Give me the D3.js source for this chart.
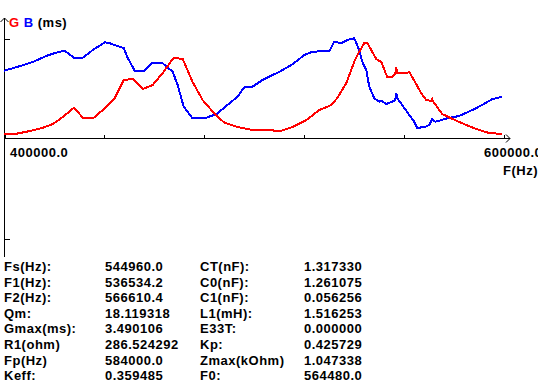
<!DOCTYPE html>
<html>
<head>
<meta charset="utf-8">
<script src="https://cdn.jsdelivr.net/npm/d3@7/dist/d3.min.js"></script>
<style>
  body { margin: 0; background: #fff; }
  text { font-family: "Liberation Sans", Arial, sans-serif; font-weight: bold; font-size: 13px; letter-spacing: 0.5px; }
</style>
</head>
<body>
<div id="chart"></div>
<script>
// Frequency sweep (Hz) and normalized conductance G / susceptance B
const freqG = [400000, 404400, 410400, 415600, 419600, 423600, 428000, 431600, 436000, 439600,
  444400, 446400, 448000, 451600, 455600, 459600, 463600, 468000, 471600, 475600,
  479600, 485200, 488400, 493200, 497600, 499600, 511200, 515600, 521200, 526400,
  531200, 533600, 537200, 540400, 542400, 544400, 545600, 549200, 551200, 553600,
  555600, 556800, 557200, 557600, 561600, 562400, 563600, 567200, 569200, 571200,
  571600, 572400, 573600, 575600, 582400, 589200, 594400, 599600];
const valG = [0.037, 0.04, 0.07, 0.103, 0.14, 0.21, 0.303, 0.203, 0.203, 0.28,
  0.40, 0.50, 0.58, 0.59, 0.49, 0.53, 0.65, 0.803, 0.79, 0.56,
  0.38, 0.22, 0.153, 0.113, 0.09, 0.08, 0.073, 0.11, 0.18, 0.28,
  0.33, 0.40, 0.55, 0.763, 0.863, 0.95, 0.95, 0.79, 0.76, 0.61,
  0.61, 0.64, 0.71, 0.65, 0.65, 0.66, 0.61, 0.45, 0.38, 0.37,
  0.39, 0.35, 0.31, 0.24, 0.16, 0.09, 0.05, 0.04];

const freqB = [400000, 405200, 411600, 417200, 420400, 424000, 425600, 428000, 431600, 435600,
  440400, 442400, 446400, 448000, 449600, 452400, 456400, 459600, 463600, 467600,
  469600, 472000, 475600, 480400, 485200, 490400, 493600, 496400, 499600, 503600,
  510400, 515600, 520400, 523600, 530400, 532400, 535200, 537600, 540400, 542400,
  543600, 545200, 546400, 548400, 550400, 551200, 553200, 555600, 556800, 557200,
  557600, 559600, 562400, 564400, 565600, 568400, 570400, 571600, 572800, 574400,
  577600, 582400, 589200, 595600, 599600];
const valB = [0.673, 0.71, 0.76, 0.823, 0.85, 0.873, 0.85, 0.803, 0.803, 0.88,
  0.957, 0.947, 0.913, 0.90, 0.80, 0.673, 0.673, 0.753, 0.747, 0.663,
  0.53, 0.313, 0.197, 0.197, 0.24, 0.347, 0.413, 0.51, 0.513, 0.58,
  0.663, 0.737, 0.83, 0.863, 0.87, 0.963, 0.947, 0.98, 0.997, 0.875,
  0.763, 0.68, 0.513, 0.397, 0.363, 0.373, 0.34, 0.363, 0.38, 0.453,
  0.397, 0.33, 0.23, 0.163, 0.103, 0.107, 0.13, 0.187, 0.163, 0.173,
  0.197, 0.22, 0.297, 0.387, 0.413];

const xTicks = [400000, 440000, 480000, 520000, 560000, 600000];
const yTicks = [-1, 1];

// Parameter table (label, value) pairs for the two columns
const leftLabels = ["Fs(Hz):", "F1(Hz):", "F2(Hz):", "Qm:", "Gmax(ms):", "R1(ohm)", "Fp(Hz)", "Keff:"];
const leftValues = ["544960.0", "536534.2", "566610.4", "18.119318", "3.490106", "286.524292", "584000.0", "0.359485"];
const rightLabels = ["CT(nF):", "C0(nF):", "C1(nF):", "L1(mH):", "E33T:", "Kp:", "Zmax(kOhm)", "F0:"];
const rightValues = ["1.317330", "1.261075", "0.056256", "1.516253", "0.000000", "0.425729", "1.047338", "564480.0"];

const W = 538, H = 386;
const svg = d3.select("#chart").append("svg")
  .attr("width", W)
  .attr("height", H)
  .style("display", "block");

const x = d3.scaleLinear().domain([400000, 600000]).range([4, 503]);
const y = d3.scaleLinear().domain([-1, 1]).range([238, 38]);
const y0 = Math.round(y(0)) + 0.5;
const xa = Math.round(x(400000)) + 0.5;

// axis lines
const axes = svg.append("g").attr("stroke", "#000").attr("fill", "none")
  .attr("shape-rendering", "crispEdges");
axes.append("line").attr("x1", xa).attr("x2", 510).attr("y1", y0).attr("y2", y0);
axes.append("line").attr("x1", xa).attr("x2", xa).attr("y1", 18).attr("y2", 257);

// arrows
svg.append("path")
  .attr("d", `M${xa - 4},${22} L${xa},${18} L${xa + 4},${22}`)
  .attr("stroke", "#000").attr("fill", "none");
svg.append("path")
  .attr("d", `M506,${y0 - 4} L510,${y0} L506,${y0 + 4}`)
  .attr("stroke", "#000").attr("fill", "none");

// x ticks (upward), no labels at tick positions
const xAxis = d3.axisBottom(x).tickValues(xTicks).tickSize(-4).tickFormat("");
svg.append("g")
  .attr("transform", `translate(0.5,${y0})`)
  .attr("shape-rendering", "crispEdges")
  .call(xAxis)
  .call(g => g.select(".domain").remove());

// y ticks (pointing right)
const yAxis = d3.axisLeft(y).tickValues(yTicks).tickSize(-5).tickFormat("");
svg.append("g")
  .attr("transform", `translate(${xa},0.5)`)
  .attr("shape-rendering", "crispEdges")
  .call(yAxis)
  .call(g => g.select(".domain").remove());

// axis labels
svg.append("text").attr("x", 10).attr("y", 157).text("400000.0");
svg.append("text").attr("x", 484).attr("y", 157).text("600000.0");
svg.append("text").attr("x", 503).attr("y", 175).text("F(Hz)");

const legend = svg.append("text").attr("x", 9).attr("y", 27);
legend.append("tspan").attr("fill", "#ff0000").text("G");
legend.append("tspan").attr("fill", "#0000ff").text(" B");
legend.append("tspan").attr("fill", "#000").text(" (ms)");

// curves
const line = d3.line().x(d => x(d[0])).y(d => y(d[1]));
const gData = freqG.map((f, i) => [f, valG[i]]);
const bData = freqB.map((f, i) => [f, valB[i]]);

svg.append("path").datum(bData)
  .attr("fill", "none").attr("stroke", "#0000ff").attr("stroke-width", 2)
  .attr("shape-rendering", "crispEdges")
  .attr("d", line);
svg.append("path").datum(gData)
  .attr("fill", "none").attr("stroke", "#ff0000").attr("stroke-width", 2)
  .attr("shape-rendering", "crispEdges")
  .attr("d", line);

// parameter table
const cols = [[leftLabels, 4], [leftValues, 105], [rightLabels, 200], [rightValues, 304]];
cols.forEach(([arr, cx]) => {
  svg.append("g").selectAll("text")
    .data(arr)
    .enter()
    .append("text")
    .attr("x", cx)
    .attr("y", (d, i) => 271 + i * 15.6)
    .attr("fill", "#000")
    .text(d => d);
});
</script>
</body>
</html>
